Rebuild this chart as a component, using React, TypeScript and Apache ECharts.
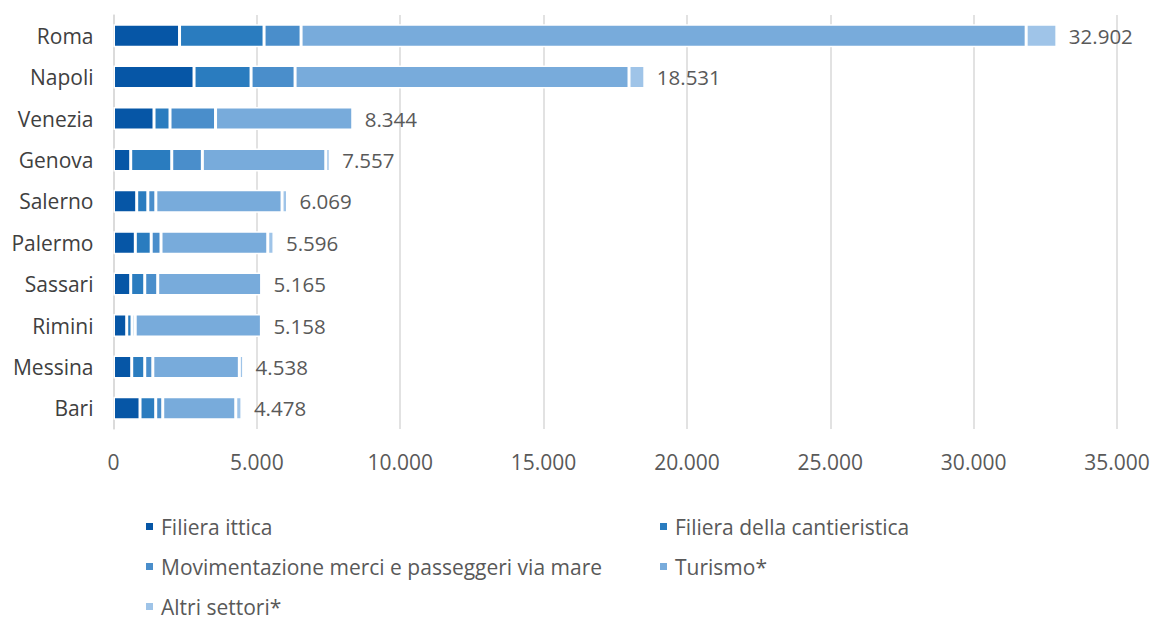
import React, { useEffect, useRef } from "react";
import * as echarts from "echarts";

const cities = ["Roma", "Napoli", "Venezia", "Genova", "Salerno", "Palermo", "Sassari", "Rimini", "Messina", "Bari"];
const filieraIttica = [2303, 2809, 1413, 600, 809, 761, 600, 461, 635, 925];
const cantieristica = [2948, 1989, 558, 1431, 388, 554, 489, 185, 454, 547];
const movimentazione = [1291, 1535, 1588, 1068, 279, 342, 453, 111, 282, 245];
const turismo = [25290, 11647, 4785, 4305, 4403, 3723, 3623, 4401, 3018, 2547];
const altri = [1070, 551, 0, 153, 190, 216, 0, 0, 149, 214];
const totals = [32902, 18531, 8344, 7557, 6069, 5596, 5165, 5158, 4538, 4478];
const xTicks = [0, 5000, 10000, 15000, 20000, 25000, 30000, 35000];

const seriesNames = [
  "Filiera ittica",
  "Filiera della cantieristica",
  "Movimentazione merci e passeggeri via mare",
  "Turismo*",
  "Altri settori*",
];
const colors = ["#0656a6", "#2a7cbf", "#4a8ecb", "#78abdb", "#9fc4e8"];

const FONT = "'Open Sans', 'Noto Sans', sans-serif";

function fmt(v: number): string {
  return String(v).replace(/\B(?=(\d{3})+(?!\d))/g, ".");
}

export default function App() {
  const ref = useRef<HTMLDivElement>(null);
  useEffect(() => {
    if (!ref.current) return;
    const chart = echarts.init(ref.current, undefined, { renderer: "svg" });
    const dataSets = [filieraIttica, cantieristica, movimentazione, turismo, altri];
    const series = dataSets.map((d, i) => ({
      name: seriesNames[i],
      type: "bar",
      stack: "tot",
      barWidth: 23,
      data: d.map((v) => ({
        value: v,
        itemStyle: v === 0 ? { borderWidth: 0 } : undefined,
      })),
      itemStyle: { color: colors[i], borderColor: "#ffffff", borderWidth: 1.5 },
      label:
        i === 4
          ? {
              show: true,
              position: "right",
              distance: 12,
              fontSize: 20.5,
              color: "#595959",
              fontFamily: FONT,
              formatter: (p: any) => fmt(totals[p.dataIndex]),
            }
          : { show: false },
    }));
    const legendPos = [
      { left: 146, top: 516 },
      { left: 660, top: 516 },
      { left: 146, top: 556 },
      { left: 660, top: 556 },
      { left: 146, top: 596 },
    ];
    const legends = seriesNames.map((n, i) => ({
      data: [n],
      left: legendPos[i].left,
      top: legendPos[i].top,
      icon: "rect",
      itemWidth: 7,
      itemHeight: 7,
      itemGap: 8,
      padding: 0,
      selectedMode: false,
      itemStyle: { borderWidth: 0 },
      textStyle: { fontSize: 21, color: "#595959", fontFamily: FONT, padding: [0, 0, 0, 3] },
    }));
    chart.setOption({
      animation: false,
      color: colors,
      grid: { left: 113.5, right: 37, top: 15, height: 414, containLabel: false },
      legend: legends,
      xAxis: {
        type: "value",
        min: xTicks[0],
        max: xTicks[xTicks.length - 1],
        interval: xTicks[1] - xTicks[0],
        axisLine: { show: false },
        axisTick: { show: false },
        splitLine: { show: true, lineStyle: { color: "#d9d9d9", width: 1.5 } },
        axisLabel: {
          fontSize: 21,
          color: "#595959",
          fontFamily: FONT,
          margin: 22,
          formatter: (v: number) => fmt(v),
        },
      },
      yAxis: {
        type: "category",
        inverse: true,
        data: cities,
        axisLine: { show: true, lineStyle: { color: "#d9d9d9", width: 1.5 } },
        axisTick: { show: false },
        axisLabel: { fontSize: 21, color: "#404040", fontFamily: FONT, margin: 20 },
      },
      series,
    });
    return () => chart.dispose();
  }, []);
  return (
    <div
      ref={ref}
      style={{ position: "fixed", left: 0, top: 0, width: 1154, height: 619, background: "#ffffff" }}
    />
  );
}
